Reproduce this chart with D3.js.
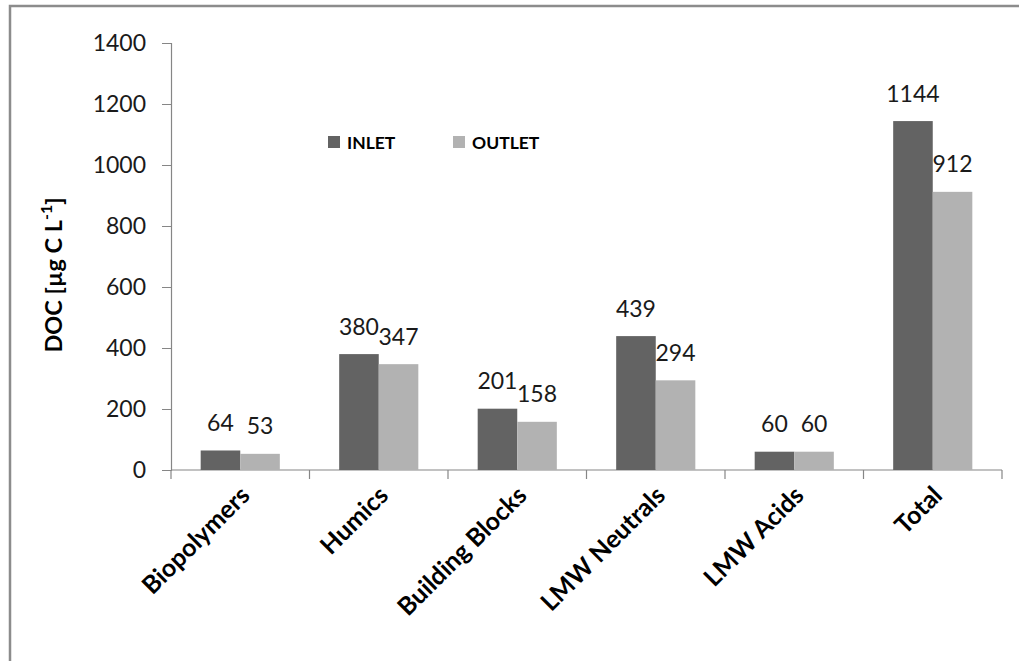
<!DOCTYPE html>
<html>
<head>
<meta charset="utf-8">
<script src="https://cdn.jsdelivr.net/npm/d3@7"></script>
<style>
  body { margin: 0; background: #fff; }
  svg { display: block; }
  .num { font-family: Lato, 'Open Sans', sans-serif; font-size: 23px; fill: #1a1a1a; }
  .cat { font-family: Lato, 'Open Sans', sans-serif; font-size: 25px; font-weight: bold; fill: #000; }
</style>
</head>
<body>
<script>
  'use strict'
  const categories = ['Biopolymers', 'Humics', 'Building Blocks', 'LMW Neutrals', 'LMW Acids', 'Total']
  const series = ['INLET', 'OUTLET']
  const inlet = [64, 380, 201, 439, 60, 1144]
  const outlet = [53, 347, 158, 294, 60, 912]
  const yTicks = [0, 200, 400, 600, 800, 1000, 1200, 1400]
  const colors = {INLET: '#636363', OUTLET: '#b2b2b2'}

  const W = 1019
  const H = 661
  const svg = d3.select('body').append('svg')
    .attr('width', W)
    .attr('height', H)

  // outer chart frame
  svg.append('rect')
    .attr('x', 10).attr('y', 6)
    .attr('width', 1030).attr('height', 680)
    .attr('fill', 'none')
    .attr('stroke', '#8c8c8c')
    .attr('stroke-width', 2.5)

  const x0 = d3.scaleBand().domain(categories).range([171, 1002])
  const x1 = d3.scaleBand().domain(series).range([0, x0.bandwidth()]).paddingOuter(0.75)
  const y = d3.scaleLinear().domain([0, 1400]).range([470, 43])

  const rows = categories.map((c, i) => ({cat: c, values: [
    {key: 'INLET', value: inlet[i]},
    {key: 'OUTLET', value: outlet[i]}
  ]}))

  // y axis
  const yAxis = svg.append('g')
    .attr('transform', 'translate(171,0)')
    .call(d3.axisLeft(y).tickValues(yTicks).tickSize(9).tickPadding(16).tickFormat(d3.format('d')))
  yAxis.select('.domain').attr('stroke', '#868686').attr('stroke-width', 1.2)
  yAxis.selectAll('.tick line').attr('stroke', '#868686')
  yAxis.selectAll('.tick text').attr('class', 'num').attr('font-size', null).attr('font-family', null)

  // x axis
  const xAxis = svg.append('g')
    .attr('transform', `translate(0,${y(0)})`)
  xAxis.append('line')
    .attr('x1', 171).attr('x2', 1002)
    .attr('stroke', '#868686').attr('stroke-width', 1.2)
  const edges = categories.map(c => x0(c)).concat([x0.range()[1]])
  xAxis.selectAll('.xtick')
    .data(edges)
    .enter().append('line')
    .attr('x1', d => d).attr('x2', d => d)
    .attr('y1', 0).attr('y2', 9)
    .attr('stroke', '#868686').attr('stroke-width', 1.2)
  xAxis.selectAll('.cat')
    .data(categories)
    .enter().append('text')
    .attr('class', 'cat')
    .attr('text-anchor', 'end')
    .attr('transform', d => `translate(${x0(d) + x0.bandwidth() / 2 + 11},${27}) rotate(-45)`)
    .text(d => d)

  // bars
  const groups = svg.selectAll('g.group')
    .data(rows)
    .enter().append('g')
    .attr('class', 'group')
    .attr('transform', d => `translate(${x0(d.cat)},0)`)
  groups.selectAll('rect')
    .data(d => d.values)
    .enter().append('rect')
    .attr('x', d => x1(d.key))
    .attr('width', x1.bandwidth())
    .attr('y', d => y(d.value))
    .attr('height', d => y(0) - y(d.value))
    .attr('fill', d => colors[d.key])
  groups.selectAll('text')
    .data(d => d.values)
    .enter().append('text')
    .attr('class', 'num')
    .attr('text-anchor', 'middle')
    .attr('x', d => x1(d.key) + x1.bandwidth() / 2)
    .attr('y', d => y(d.value) - 19.5)
    .text(d => d.value)

  // y title
  const yTitle = svg.append('text')
    .attr('transform', 'translate(62,275) rotate(-90)')
    .attr('text-anchor', 'middle')
    .attr('font-family', 'Lato, sans-serif')
    .attr('font-size', '23.5px')
    .attr('font-weight', 'bold')
  yTitle.append('tspan').text('DOC  [µg C L')
  yTitle.append('tspan').attr('dy', -10).attr('font-size', '16px').text('-1')
  yTitle.append('tspan').attr('dy', 10).text(']')

  // legend
  const legend = svg.selectAll('g.legend')
    .data(series)
    .enter().append('g')
    .attr('class', 'legend')
    .attr('transform', (d, i) => `translate(${328 + i * 125},136)`)
  legend.append('rect')
    .attr('width', 12).attr('height', 12)
    .attr('fill', d => colors[d])
  legend.append('text')
    .attr('x', 19).attr('y', 12.5)
    .attr('font-family', 'Lato, sans-serif')
    .attr('font-size', '17.5px')
    .attr('font-weight', 'bold')
    .text(d => d)
</script>
</body>
</html>
